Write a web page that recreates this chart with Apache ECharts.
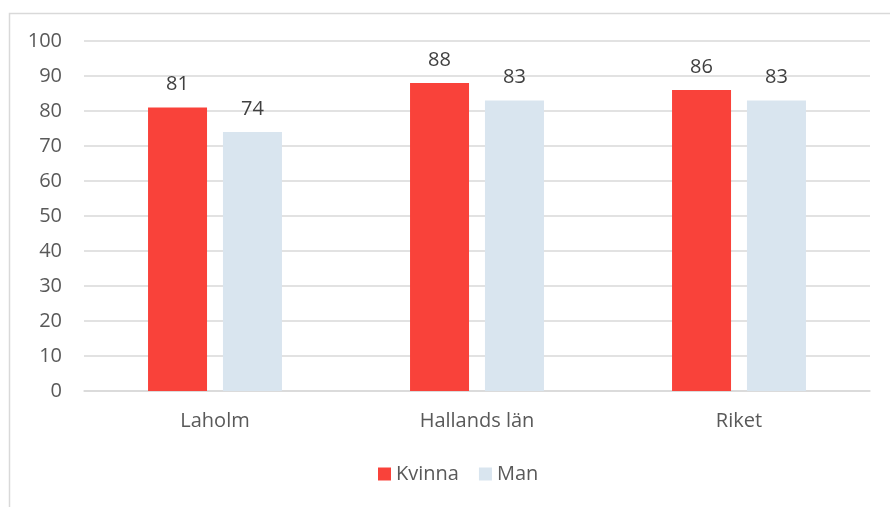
<!DOCTYPE html>
<html><head><meta charset="utf-8">
<script src="https://cdn.jsdelivr.net/npm/echarts@6/dist/echarts.min.js"></script>
<style>html,body{margin:0;padding:0;background:#fff}#c{width:890px;height:507px}</style>
</head><body><div id="c"></div>
<script>
const categories = ["Laholm", "Hallands län", "Riket"];
const kvinna = [81, 88, 86];
const man = [74, 83, 83];
const seriesNames = ["Kvinna", "Man"];
const yTicks = [0, 100, 10];

const chart = echarts.init(document.getElementById('c'));
const font = "'Open Sans', 'Noto Sans', sans-serif";
chart.setOption({
  animation: false,
  textStyle: { fontFamily: font },
  graphic: [{
    type: 'rect', left: 7, top: 11, z: -1,
    shape: { width: 1000, height: 600 },
    style: { fill: 'none', stroke: '#D9D9D9', lineWidth: 1.5 }
  }],
  grid: { left: 84, right: 20, top: 41, bottom: 116, containLabel: false },
  legend: {
    bottom: 18, left: 373,
    itemWidth: 13, itemHeight: 13, itemGap: 20,
    icon: 'rect',
    textStyle: { fontSize: 20, color: '#595959', fontFamily: font },
    data: seriesNames
  },
  xAxis: {
    type: 'category', data: categories,
    axisLine: { lineStyle: { color: '#D9D9D9', width: 1.5 } },
    axisTick: { show: false },
    axisLabel: { fontSize: 20, color: '#595959', margin: 20, fontFamily: font }
  },
  yAxis: {
    type: 'value', min: yTicks[0], max: yTicks[1], interval: yTicks[2],
    axisLine: { show: false }, axisTick: { show: false },
    splitLine: { lineStyle: { color: '#D9D9D9', width: 1.5 } },
    axisLabel: { fontSize: 20, color: '#595959', margin: 22, fontFamily: font }
  },
  series: [
    { name: seriesNames[0], type: 'bar', data: kvinna, barWidth: 59, barGap: '27%',
      itemStyle: { color: '#F9423A' },
      label: { show: true, position: 'top', distance: 13, fontSize: 20, color: '#404040', fontFamily: font } },
    { name: seriesNames[1], type: 'bar', data: man, barWidth: 59,
      itemStyle: { color: '#D9E5EF' },
      label: { show: true, position: 'top', distance: 13, fontSize: 20, color: '#404040', fontFamily: font } }
  ]
});
</script></body></html>
